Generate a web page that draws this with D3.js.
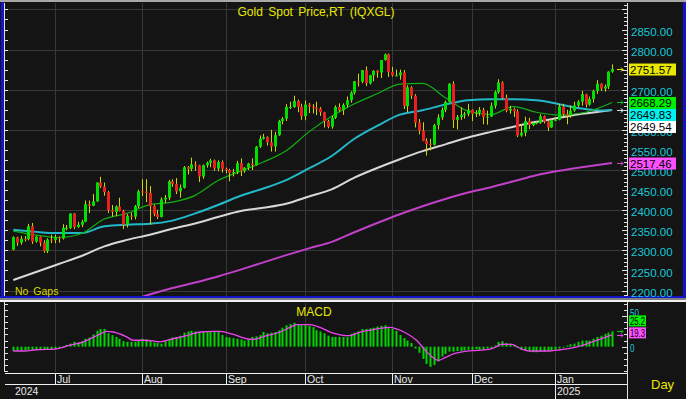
<!DOCTYPE html>
<html><head><meta charset="utf-8">
<script src="https://d3js.org/d3.v7.min.js"></script>
<style>html,body{margin:0;padding:0;background:#141414;overflow:hidden}svg{display:block}text{font-family:"Liberation Sans",Arial,sans-serif}</style>
</head><body>
<svg id="chart" width="686" height="399"></svg>
<script>
// ---------------- data ----------------
const title = "Gold Spot Price,RT (IQXGL)";
const firstDay = [2024, 5, 14], lastDay = [2025, 0, 22];
const opens = [2302,2332,2319,2329,2328,2360,2322,2334,2319,2298,2327,
2326,2332,2330,2356,2356,2392,2358,2364,2371,2415,2411,
2422,2469,2459,2445,2400,2396,2409,2398,2364,2386,2384,2410,
2447,2446,2443,2410,2390,2383,2427,2431,2472,2465,2447,
2456,2507,2503,2514,2512,2484,2512,2518,2524,2504,2520,
2503,2500,2493,2495,2517,2497,2506,2516,2512,2558,2578,
2582,2569,2559,2587,2622,2628,2657,2657,2672,2658,
2634,2663,2658,2656,2653,2644,2622,2608,2630,2657,2649,
2662,2674,2693,2721,2720,2749,2716,2736,2747,2743,2774,2788,
2744,2736,2736,2743,2659,2706,2685,2618,2598,2573,2565,
2563,2612,2631,2650,2670,2715,2625,2632,2637,2640,
2650,2640,2643,2650,2632,2633,2660,2694,2718,2680,2648,2652,
2646,2586,2593,2622,2612,2617,2618,2634,2621,2606,2624,
2625,2658,2639,2636,2648,2661,2670,2689,2663,2677,2697,2715,2703,2708,2745];
const highs = [2335,2334,2336,2336,2366,2368,2336,2335,2325,2330,2339,
2339,2335,2365,2363,2392,2393,2371,2376,2424,2424,2440,
2469,2483,2469,2448,2413,2412,2431,2401,2390,2394,2413,2451,
2477,2477,2460,2414,2401,2432,2438,2475,2477,2480,2464,
2510,2510,2531,2522,2513,2514,2521,2528,2526,2524,2524,
2506,2503,2503,2523,2529,2507,2518,2529,2560,2586,2590,
2584,2600,2595,2625,2632,2664,2670,2685,2675,2665,
2673,2667,2664,2670,2657,2645,2625,2635,2661,2666,2666,
2683,2696,2722,2740,2749,2758,2737,2749,2749,2774,2790,2790,
2757,2750,2750,2749,2711,2709,2689,2627,2619,2579,2578,
2615,2639,2656,2673,2716,2721,2637,2656,2645,2665,
2651,2649,2657,2655,2648,2668,2698,2726,2721,2688,2660,2655,
2651,2614,2633,2630,2620,2621,2639,2636,2623,2626,2630,
2665,2665,2650,2661,2670,2674,2697,2690,2683,2700,2724,2716,2713,2746,2763];
const lows = [2300,2311,2314,2322,2325,2316,2319,2310,2294,2293,2318,
2318,2319,2327,2350,2353,2353,2356,2358,2370,2393,2410,
2421,2455,2436,2393,2384,2385,2397,2353,2357,2376,2377,2405,
2435,2420,2364,2385,2378,2382,2418,2425,2458,2440,2431,
2454,2489,2497,2498,2470,2478,2506,2507,2498,2497,2494,
2492,2472,2484,2490,2485,2493,2500,2500,2511,2555,2576,
2561,2546,2546,2585,2614,2622,2652,2655,2644,2625,
2624,2642,2641,2637,2635,2606,2604,2603,2627,2644,2637,
2656,2668,2688,2708,2716,2709,2713,2721,2730,2729,2772,2732,
2733,2733,2725,2652,2644,2677,2606,2589,2572,2536,2549,
2561,2601,2625,2644,2668,2605,2601,2625,2628,2634,
2622,2632,2635,2614,2613,2632,2653,2690,2677,2644,2640,2632,
2582,2583,2584,2602,2609,2614,2615,2616,2597,2605,2622,
2624,2634,2614,2630,2645,2656,2660,2656,2660,2668,2690,2697,2695,2702,2742];
const closes = [2333,2319,2329,2328,2360,2322,2334,2319,2298,2327,2326,
2332,2330,2356,2356,2392,2358,2364,2371,2415,2411,2422,
2469,2459,2445,2400,2396,2409,2398,2364,2386,2384,2410,2447,
2446,2443,2410,2390,2383,2427,2431,2472,2465,2447,2456,
2507,2503,2514,2512,2484,2512,2518,2524,2504,2520,2503,
2500,2493,2495,2517,2497,2506,2516,2512,2558,2578,2582,
2569,2559,2587,2622,2628,2657,2657,2672,2658,2634,
2663,2658,2656,2653,2644,2622,2608,2630,2657,2649,2662,
2674,2693,2721,2720,2749,2716,2736,2747,2743,2774,2788,2744,
2736,2736,2743,2659,2706,2685,2618,2598,2573,2565,2563,
2612,2631,2650,2670,2715,2625,2632,2637,2640,2650,
2640,2643,2650,2632,2633,2660,2694,2718,2680,2648,2652,2646,
2586,2593,2622,2612,2617,2618,2634,2621,2606,2624,2625,
2658,2639,2636,2648,2661,2670,2689,2663,2677,2697,2715,2703,2708,2745,2751.57];

// moving averages at these bar positions
const maIdx = [0,6,12,18,24,30,36,42,48,54,60,66,72,78,84,90,96,102,108,114,120,126,132,138,144,150,156,158];
const ma20  = [2348,2338,2332,2342,2378,2392,2414,2420,2437,2474,2497,2520,2548,2595,2634,2665,2690,2714,2716,2680,2647,2638,2658,2644,2637,2642,2660,2668.29];
const ma50  = [2351,2346,2343,2343,2360,2364,2366,2374,2392,2413,2436,2454,2475,2504,2535,2578,2610,2638,2649,2663,2674,2676,2676,2674,2664,2653,2648,2649.83];
const ma100 = [2226,2246,2266,2286,2310,2326,2339,2354,2367,2383,2398,2406,2416,2434,2452,2481,2505,2527,2547,2564,2581,2595,2608,2620,2630,2640,2647,2649.54];
const ma200Idx = [30,36,42,48,54,60,66,72,78,84,90,96,102,108,114,120,126,132,138,144,150,156,158];
const ma200 = [2172,2190,2206,2220,2235,2252,2270,2288,2305,2321,2345,2368,2390,2410,2428,2444,2457,2472,2487,2498,2507,2515,2517.46];

// MACD (bars) per bar and signal line read at these positions
const macd = [-7,-7,-6,-6,-5,-5,-5,-4,-4,-4,-4,-3,-2,
0,3,5,8,7,9,13,15,20,26,29,29,
22,19,16,13,9,8,8,8,11,13,12,9,
7,6,5,9,13,15,16,18,23,25,26,25,
24,24,25,25,25,24,19,16,15,14,13,12,
10,12,16,17,19,24,22,23,24,27,31,35,
37,39,36,35,35,34,32,27,25,22,18,16,
16,16,16,16,21,23,25,29,29,30,31,33,
34,35,32,29,26,19,14,10,6,-3,-10,-20,
-28,-33,-30,-24,-16,-12,-8,-8,-7,-7,-6,-5,
-5,-4,-5,-5,-3,-2,2,8,9,6,5,3,
-2,-5,-6,-8,-9,-9,-8,-8,-7,-6,-5,-3,
0,2,4,5,8,10,10,10,13,16,18,21,23,25.2];
const sigIdx = [0,3,6,11,14,18.5,23,24.6,26.4,29.9,31.6,34.3,36.9,38.7,42.2,45.7,49.3,52.8,54.5,58.1,61.6,63.3,66.9,70.4,73,74.8,78.3,80.9,84.4,86.2,88.8,91.5,94.1,96.7,99.4,101.1,103.7,106.4,109,110.8,112.1,113.9,116.1,118.8,122.3,125.8,127.5,128.9,131.5,133.7,136.3,141.6,144.3,146.9,150.4,153.9,158];
const sigVal = [-7,-7,-5,-4,1,8,21,25,24,16,10.5,10.5,9.5,8,13,18,24,25,25,20,13,12,18,24,31.5,36,36,31.5,22,19.5,18,24,27,30,31.5,29,22,10.5,-8,-18,-22.6,-18,-11.6,-8,-6,-4,0,4,3.7,-2.6,-7,-7,-5,-2.6,2.6,10.5,19.3];

const priceTicks = [2200,2250,2300,2350,2400,2450,2500,2550,2600,2650,2700,2750,2800,2850];
const gridPrices = [2200,2300,2400,2500,2600,2700,2800,2900];
const macdTicks = [0,50];
const monthLabels = ["Jul","Aug","Sep","Oct","Nov","Dec","Jan"];
const yearLabels = ["2024","2025"];
const priceEnd = [2751.57, 2668.29, 2649.83, 2649.54, 2517.46];
const macdEnd = [25.2, 19.3];

// ---------------- drawing ----------------
const svg = d3.select("#chart");
const n = closes.length;
const dates = d3.utcDay.range(new Date(Date.UTC(...firstDay)), new Date(Date.UTC(lastDay[0], lastDay[1], lastDay[2] + 1)))
  .filter(d => d.getUTCDay() % 6 !== 0);

const C = {bg:"#141414", grid:"#383838", up:"#00e000", down:"#e82020", wick:"#d4d400",
  ma20:"#10b010", ma50:"#22b8c8", ma100:"#d8d8d8", ma200:"#c040c8", axisTxt:"#19c8d8",
  yellow:"#e8e800", macd:"#00d400", sig:"#ee44ee", frame:"#1414c8"};

const x = d3.scaleLinear().domain([0, n - 1]).range([13.3, 612.1]);
const y = d3.scaleLinear().domain([2200, 2850]).range([290.5, 29.5]);
const ym = d3.scaleLinear().domain([0, 50]).range([346.7, 316.1]);

const P = {l: 5, r: 627, t: 3, b: 296};   // main plot
const M = {l: 5, r: 627, t: 303, b: 372}; // macd plot

svg.append("rect").attr("width", 686).attr("height", 399).attr("fill", C.bg);

const defs = svg.append("defs");
defs.append("clipPath").attr("id", "cp").append("rect").attr("x", P.l).attr("y", P.t).attr("width", P.r - P.l).attr("height", P.b - P.t);
defs.append("clipPath").attr("id", "cm").append("rect").attr("x", M.l).attr("y", M.t).attr("width", M.r - M.l).attr("height", M.b - M.t);

// month starts
const monthStarts = [];
for (let i = 1; i < n; i++) if (dates[i].getUTCMonth() !== dates[i - 1].getUTCMonth()) monthStarts.push(i);

// grid main
const g = svg.append("g").attr("clip-path", "url(#cp)");
g.selectAll(".hg").data(gridPrices).join("line")
  .attr("x1", P.l).attr("x2", P.r).attr("y1", d => Math.round(y(d)) + 0.5).attr("y2", d => Math.round(y(d)) + 0.5)
  .attr("stroke", C.grid);
g.selectAll(".vg").data(monthStarts).join("line")
  .attr("x1", d => Math.round(x(d)) + 0.5).attr("x2", d => Math.round(x(d)) + 0.5).attr("y1", P.t).attr("y2", P.b)
  .attr("stroke", C.grid);

// moving averages
const lineFn = (idx, ys) => d3.line().x((d, k) => x(idx[k])).y(d => y(d)).curve(d3.curveMonotoneX)(ys);
g.append("path").attr("d", lineFn(ma200Idx, ma200)).attr("fill", "none").attr("stroke", C.ma200).attr("stroke-width", 2);
g.append("path").attr("d", lineFn(maIdx, ma100)).attr("fill", "none").attr("stroke", C.ma100).attr("stroke-width", 2);
g.append("path").attr("d", lineFn(maIdx, ma50)).attr("fill", "none").attr("stroke", C.ma50).attr("stroke-width", 2);
g.append("path").attr("d", lineFn(maIdx, ma20)).attr("fill", "none").attr("stroke", C.ma20).attr("stroke-width", 1.2);

// candles
const idx = d3.range(n);
g.selectAll(".wk").data(idx).join("line")
  .attr("x1", i => Math.round(x(i)) + 0.5).attr("x2", i => Math.round(x(i)) + 0.5)
  .attr("y1", i => y(highs[i])).attr("y2", i => y(lows[i])).attr("stroke", C.wick).attr("stroke-width", 1);
g.selectAll(".bd").data(idx).join("rect")
  .attr("x", i => Math.round(x(i)) - 1).attr("width", 3)
  .attr("y", i => y(Math.max(opens[i], closes[i])))
  .attr("height", i => Math.max(1, Math.abs(y(opens[i]) - y(closes[i]))))
  .attr("fill", i => closes[i] >= opens[i] ? C.up : C.down);

// frame main
svg.append("rect").attr("x", 0).attr("y", 0).attr("width", 686).attr("height", 2).attr("fill", "#a8a8a8");
svg.append("rect").attr("x", 1).attr("y", 2).attr("width", 3).attr("height", 296).attr("fill", C.frame);
svg.append("rect").attr("x", 0).attr("y", 296).attr("width", 686).attr("height", 2).attr("fill", C.frame);
svg.append("rect").attr("x", 683).attr("y", 2).attr("width", 3).attr("height", 296).attr("fill", C.frame);
svg.append("rect").attr("x", 0).attr("y", 298).attr("width", 686).attr("height", 2).attr("fill", "#808080");
svg.append("rect").attr("x", 0).attr("y", 300).attr("width", 686).attr("height", 2).attr("fill", "#f0f0f0");

// right axis (main)
svg.append("line").attr("x1", 627.5).attr("x2", 627.5).attr("y1", 3).attr("y2", 296).attr("stroke", "#e0e0e0");
const minor = d3.range(2190, 2921, 10);
svg.selectAll(".rt").data(minor).join("line")
  .attr("x1", d => d % 50 === 0 ? 622 : 624).attr("x2", 627)
  .attr("y1", d => Math.round(y(d)) + 0.5).attr("y2", d => Math.round(y(d)) + 0.5)
  .attr("stroke", "#e0e0e0").attr("display", d => (y(d) > 4 && y(d) < 296) ? null : "none");
// left ticks
svg.selectAll(".lt").data(d3.range(2175, 2926, 25)).join("line")
  .attr("x1", 5).attr("x2", 8)
  .attr("y1", d => Math.round(y(d)) + 0.5).attr("y2", d => Math.round(y(d)) + 0.5)
  .attr("stroke", "#e0e0e0").attr("display", d => (y(d) > 4 && y(d) < 296) ? null : "none");
svg.append("line").attr("x1", 4.5).attr("x2", 4.5).attr("y1", 3).attr("y2", 296).attr("stroke", "#e0e0e0");

// end-value boxes (main) stacked downward
const priceCols = [C.yellow, "#00f000", "#00f0f0", "#ffffff", "#ff50ff"];
const arrowCols = ["#e8e800", "#10c010", "#22b8c8", "#e0e0e0", "#d040d0"];
const boxes = [];
let prevBottom = -Infinity;
priceEnd.forEach((v, k) => {
  let cy = y(v) + 0.5;
  if (cy - 6 < prevBottom) cy = prevBottom + 6;
  prevBottom = cy + 6;
  boxes.push(cy);
});
// axis labels (those fully hidden behind a value box are not drawn)
svg.selectAll(".pl").data(priceTicks.filter(d => !boxes.some(b => Math.abs(b - (y(d) + 2)) < 4))).join("text")
  .attr("x", 631).attr("y", d => y(d) + 2).attr("dy", "0.36em")
  .attr("fill", C.axisTxt).attr("font-size", "11.5px").text(d => d.toFixed(2));
priceEnd.forEach((v, k) => {
  const cy = boxes[k];
  svg.append("rect").attr("x", 629).attr("y", cy - 6).attr("width", 47).attr("height", 12).attr("fill", priceCols[k]);
  svg.append("text").attr("x", 630).attr("y", cy).attr("dy", "0.36em").attr("font-size", "11.5px").attr("fill", "#000").text(v.toFixed(2));
  const ay = Math.round(y(v)) + 0.5;
  svg.append("path").attr("d", `M617,${ay}h6M621,${ay - 2}l2,2l-2,2`).attr("stroke", arrowCols[k]).attr("fill", "none");
});

// title and notes
svg.append("text").attr("x", 316).attr("y", 16).attr("text-anchor", "middle").attr("font-size", "12px")
  .attr("word-spacing", "2px").attr("fill", C.yellow).text(title);
svg.append("text").attr("x", 15).attr("y", 295).attr("font-size", "10.5px").attr("word-spacing", "2px").attr("fill", "#d8d800").text("No Gaps");

// ---------------- MACD panel ----------------
const gm = svg.append("g").attr("clip-path", "url(#cm)");
gm.selectAll(".mvg").data(monthStarts).join("line")
  .attr("x1", d => Math.round(x(d)) + 0.5).attr("x2", d => Math.round(x(d)) + 0.5).attr("y1", M.t).attr("y2", M.b)
  .attr("stroke", C.grid);
gm.selectAll(".mb").data(idx).join("rect")
  .attr("x", i => Math.round(x(i)) - 0.5).attr("width", 2)
  .attr("y", i => Math.min(ym(0), ym(macd[i]))).attr("height", i => Math.max(1, Math.abs(ym(macd[i]) - ym(0))))
  .attr("fill", C.macd);
gm.append("path").attr("d", d3.line().x((d, k) => x(sigIdx[k])).y(d => ym(d)).curve(d3.curveMonotoneX)(sigVal))
  .attr("fill", "none").attr("stroke", C.sig).attr("stroke-width", 1.3);
svg.append("text").attr("x", 314).attr("y", 316).attr("text-anchor", "middle").attr("font-size", "12px").attr("fill", C.yellow).text("MACD");

svg.append("line").attr("x1", 627.5).attr("x2", 627.5).attr("y1", 302).attr("y2", 399).attr("stroke", "#e0e0e0");
svg.append("line").attr("x1", 4.5).attr("x2", 4.5).attr("y1", 302).attr("y2", 372).attr("stroke", "#e0e0e0");
const mt = d3.range(-40, 71, 10);
svg.selectAll(".mrt").data(mt).join("line")
  .attr("x1", d => d % 50 === 0 ? 622 : 624).attr("x2", 627)
  .attr("y1", d => Math.round(ym(d)) + 0.5).attr("y2", d => Math.round(ym(d)) + 0.5)
  .attr("stroke", "#e0e0e0").attr("display", d => (ym(d) > 303 && ym(d) < 372) ? null : "none");
svg.selectAll(".mlt").data(mt).join("line")
  .attr("x1", 5).attr("x2", 8)
  .attr("y1", d => Math.round(ym(d)) + 0.5).attr("y2", d => Math.round(ym(d)) + 0.5)
  .attr("stroke", "#e0e0e0").attr("display", d => (ym(d) > 303 && ym(d) < 372) ? null : "none");
svg.selectAll(".ml").data(macdTicks).join("text")
  .attr("x", 630).attr("y", d => d === 50 ? ym(d) - 3 : ym(d) + 1).attr("dy", "0.36em")
  .attr("fill", C.axisTxt).attr("font-size", "11px").attr("textLength", d => String(d).length * 4.5)
  .attr("lengthAdjust", "spacingAndGlyphs").text(d => d);
const macdCols = ["#00f000", "#ff50ff"];
const macdArrow = ["#10c010", "#ee44ee"];
let mPrevTop = Infinity;
[1, 0].forEach(k => {
  const v = macdEnd[k];
  let cy = ym(v) - 2;
  if (cy + 6 > mPrevTop) cy = mPrevTop - 6;
  mPrevTop = cy - 6;
  svg.append("rect").attr("x", 629).attr("y", cy - 5.5).attr("width", 17).attr("height", 11).attr("fill", macdCols[k]);
  svg.append("text").attr("x", 630).attr("y", cy + 0.5).attr("dy", "0.36em").attr("font-size", "11px").attr("fill", "#000")
    .attr("textLength", 15).attr("lengthAdjust", "spacingAndGlyphs").text(v.toFixed(1));
  const ay = Math.round(ym(v)) + 0.5;
  svg.append("path").attr("d", `M617,${ay}h6M621,${ay - 2}l2,2l-2,2`).attr("stroke", macdArrow[k]).attr("fill", "none");
});

// ---------------- time axis ----------------
svg.append("line").attr("x1", 5).attr("x2", 627).attr("y1", 373.5).attr("y2", 373.5).attr("stroke", "#f0f0f0");
svg.append("line").attr("x1", 5).attr("x2", 627).attr("y1", 384.5).attr("y2", 384.5).attr("stroke", "#f0f0f0");
svg.selectAll(".msep").data(monthStarts).join("line")
  .attr("x1", d => Math.round(x(d)) + 0.5).attr("x2", d => Math.round(x(d)) + 0.5).attr("y1", 373).attr("y2", 384)
  .attr("stroke", "#f0f0f0");
svg.selectAll(".mtx").data(monthStarts).join("text")
  .attr("x", d => Math.round(x(d)) + 2).attr("y", 383).attr("font-size", "10.5px").attr("fill", "#e8e8e8")
  .text((d, k) => monthLabels[k]);
const yearStarts = [0].concat(monthStarts.filter(i => dates[i].getUTCMonth() === 0));
svg.selectAll(".ysep").data(yearStarts.slice(1)).join("line")
  .attr("x1", d => Math.round(x(d)) + 0.5).attr("x2", d => Math.round(x(d)) + 0.5).attr("y1", 385).attr("y2", 399)
  .attr("stroke", "#f0f0f0");
svg.selectAll(".ytx").data(yearStarts).join("text")
  .attr("x", (d, k) => k === 0 ? 15 : Math.round(x(d)) + 2).attr("y", 395).attr("font-size", "10.5px").attr("fill", "#e8e8e8")
  .text((d, k) => yearLabels[k]);
svg.append("text").attr("x", 651).attr("y", 389).attr("font-size", "13px").attr("fill", C.yellow).text("Day");
</script>
</body></html>
